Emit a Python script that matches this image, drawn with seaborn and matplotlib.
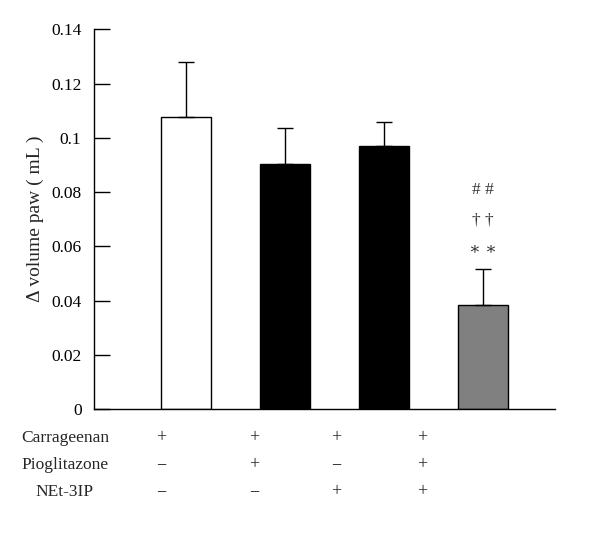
import matplotlib
matplotlib.use("Agg")
import matplotlib.pyplot as plt
import seaborn as sns
import pandas as pd
import numpy as np

groups = ["G1", "G2", "G3", "G4"]
means = [0.1078, 0.0905, 0.0968, 0.0385]
sem = [0.0202, 0.0131, 0.0090, 0.0131]
colors = ["#ffffff", "#000000", "#000000", "#808080"]
yticks = [0, 0.02, 0.04, 0.06, 0.08, 0.1, 0.12, 0.14]
yticklabels = ["0", "0.02", "0.04", "0.06", "0.08", "0.1", "0.12", "0.14"]
row_names = ["Carrageenan", "Pioglitazone", "NEt-3IP"]
row_signs = [["+", "+", "+", "+"],
             ["−", "+", "−", "+"],
             ["−", "−", "+", "+"]]
sig_marks = ["∗ ∗", "† †", "# #"]

sns.set_style("white")
plt.rcParams["font.family"] = ["Liberation Serif", "DejaVu Serif"]

W, H = 600, 533
fig = plt.figure(figsize=(6, 5.33), dpi=100)
ax = fig.add_axes([94 / W, 1 - 409 / H, (555 - 94) / W, (409 - 29.3) / H])

df = pd.DataFrame({"group": groups, "mean": means})
sns.barplot(data=df, x="group", y="mean", hue="group", palette=colors,
            legend=False, width=0.51, edgecolor="black", linewidth=1.0, ax=ax,
            errorbar=None)
xs = np.arange(len(groups))
ax.errorbar(xs, means, yerr=[np.zeros(len(sem)), sem], fmt="none",
            ecolor="black", elinewidth=1.0, capsize=6, capthick=1.0)

ax.set_xlim(-0.93, 3.73)
ax.set_ylim(0, 0.14)
ax.set_yticks(yticks)
ax.set_yticklabels(yticklabels, fontsize=12.5)
ax.set_xticks([])
ax.set_xlabel("")
ax.set_ylabel("Δ volume paw ( mL )", fontsize=14, labelpad=5)
for s in ["top", "right"]:
    ax.spines[s].set_visible(False)
for s in ["left", "bottom"]:
    ax.spines[s].set_color("black")
    ax.spines[s].set_linewidth(1.0)
ax.tick_params(axis="y", direction="in", length=11.5, width=1.0, left=True,
               colors="black", pad=9)

# significance marks over last bar
for mark, yp in zip(sig_marks, [250, 220, 190]):
    ax.text(3, (409 - yp) / ((409 - 29.3) / 0.14), mark, ha="center", va="center",
            fontsize=12.5, color="#333333")

# treatment table
row_y = [438, 465, 492]
col_x = [161, 254, 336, 422]
for name, yy, signs in zip(row_names, row_y, row_signs):
    fig.text(65 / W, 1 - yy / H, name, ha="center", va="center", fontsize=12.5)
    for sg, xx in zip(signs, col_x):
        fig.text(xx / W, 1 - yy / H, sg, ha="center", va="center", fontsize=13,
                 color="#222222")

fig.savefig("out.png", dpi=100, facecolor="white")
